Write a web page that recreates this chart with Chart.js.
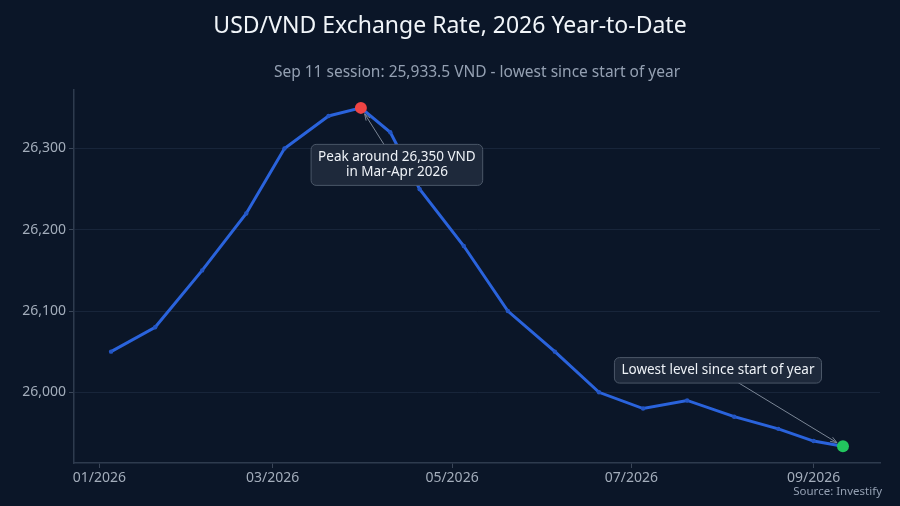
<!DOCTYPE html>
<html>
<head>
<meta charset="utf-8">
<script src="https://cdn.jsdelivr.net/npm/chart.js@4"></script>
<style>
  html, body { margin: 0; padding: 0; background: #0b1628; }
  #wrap { width: 900px; height: 506px; }
</style>
</head>
<body>
<div id="wrap"><canvas id="rateChart" width="900" height="506"></canvas></div>
<script>
// ---- data ----
const sessionDays = [4, 19, 35, 50, 63, 78, 89, 99, 109, 124, 139, 155, 170, 185, 200, 216, 231, 243, 253];
const usdVnd = [26050, 26080, 26150, 26220, 26300, 26340, 26350, 26320, 26250, 26180, 26100, 26050, 26000, 25980, 25990, 25970, 25955, 25940, 25933.5];
const xTickDays = [0, 59, 120, 181, 243];
const xTickLabels = ['01/2026', '03/2026', '05/2026', '07/2026', '09/2026'];
const yTicks = [26000, 26100, 26200, 26300];

const peakIdx = 6;
const lowIdx = usdVnd.length - 1;

const FONT = '"Noto Sans", "Open Sans", sans-serif';
const fmt = v => v.toLocaleString('en-US');

// annotation boxes + title/subtitle/source
const overlay = {
    id: 'overlay',
    afterDraw(chart) {
        const ctx = chart.ctx;
        const area = chart.chartArea;
        const pts = chart.getDatasetMeta(0).data;
        ctx.save();

        ctx.fillStyle = '#f1f5f9';
        ctx.font = '23px ' + FONT;
        ctx.textAlign = 'center';
        ctx.textBaseline = 'alphabetic';
        ctx.fillText('USD/VND Exchange Rate, 2026 Year-to-Date', 450, 33);

        ctx.fillStyle = '#94a0b2';
        ctx.font = '15.5px ' + FONT;
        ctx.fillText('Sep 11 session: 25,933.5 VND - lowest since start of year', (area.left + area.right) / 2, 77);

        ctx.font = '11.5px ' + FONT;
        ctx.textAlign = 'right';
        ctx.textBaseline = 'middle';
        ctx.fillText('Source: Investify', 882, 492);

        const notes = [
            { idx: peakIdx, dx: 36, dy: 57, lines: ['Peak around 26,350 VND', 'in Mar-Apr 2026'] },
            { idx: lowIdx, dx: -125, dy: -76, lines: ['Lowest level since start of year'] }
        ];
        ctx.font = '13.5px ' + FONT;
        notes.forEach(n => {
            const p = pts[n.idx];
            const cx = p.x + n.dx, cy = p.y + n.dy;
            // arrow from box centre toward the point
            const ang = Math.atan2(p.y - cy, p.x - cx);
            const hx = p.x - Math.cos(ang) * 7, hy = p.y - Math.sin(ang) * 7;
            ctx.strokeStyle = '#7b8696';
            ctx.lineWidth = 1;
            ctx.beginPath(); ctx.moveTo(cx, cy); ctx.lineTo(hx, hy); ctx.stroke();
            ctx.beginPath();
            ctx.moveTo(hx, hy);
            ctx.lineTo(hx - 7 * Math.cos(ang - 0.35), hy - 7 * Math.sin(ang - 0.35));
            ctx.moveTo(hx, hy);
            ctx.lineTo(hx - 7 * Math.cos(ang + 0.35), hy - 7 * Math.sin(ang + 0.35));
            ctx.stroke();

            const lh = 15.5;
            const w = Math.max(...n.lines.map(l => ctx.measureText(l).width)) + 14;
            const h = n.lines.length * lh + 10;
            ctx.beginPath();
            ctx.roundRect(cx - w / 2, cy - h / 2, w, h, 5);
            ctx.fillStyle = '#1e293b';
            ctx.fill();
            ctx.strokeStyle = '#4b5768';
            ctx.stroke();
            ctx.fillStyle = '#eef2f7';
            ctx.textAlign = 'center';
            ctx.textBaseline = 'middle';
            n.lines.forEach((l, i) => {
                ctx.fillText(l, cx, cy - (n.lines.length - 1) * lh / 2 + i * lh);
            });
        });
        ctx.restore();
    }
};

new Chart(document.getElementById('rateChart'), {
    type: 'line',
    data: {
        datasets: [{
            label: 'USD/VND',
            data: sessionDays.map((d, i) => ({ x: d, y: usdVnd[i] })),
            borderColor: '#2a63dc',
            borderWidth: 3,
            tension: 0,
            pointRadius: ctx => (ctx.dataIndex === peakIdx || ctx.dataIndex === lowIdx) ? 6 : 2.2,
            pointBackgroundColor: ctx => ctx.dataIndex === peakIdx ? '#ef4444' : ctx.dataIndex === lowIdx ? '#22c55e' : '#2456c4',
            pointBorderWidth: 0
        }]
    },
    options: {
        responsive: false,
        animation: false,
        layout: { padding: { top: 90, right: 20, left: 0, bottom: 0 } },
        plugins: {
            legend: { display: false },
            tooltip: { enabled: false }
        },
        scales: {
            x: {
                type: 'linear',
                min: -8.6,
                max: 265.6,
                afterBuildTicks: s => { s.ticks = xTickDays.map(v => ({ value: v })); },
                afterFit: s => { s.height = 43; },
                ticks: {
                    color: '#a3adbb',
                    font: { family: FONT, size: 14 },
                    padding: 2,
                    maxRotation: 0,
                    callback: v => xTickLabels[xTickDays.indexOf(v)]
                },
                grid: { drawOnChartArea: false, drawTicks: true, tickLength: 5, tickColor: '#3a4658' },
                border: { color: '#2e3b4e', width: 1.5 }
            },
            y: {
                min: 25913,
                max: 26372,
                afterBuildTicks: s => { s.ticks = yTicks.map(v => ({ value: v })); },
                afterFit: s => { s.width = 74; },
                ticks: {
                    color: '#a3adbb',
                    font: { family: FONT, size: 14 },
                    padding: 3,
                    callback: v => fmt(v)
                },
                grid: { color: '#18253a', lineWidth: 1, tickLength: 5, tickColor: '#3a4658' },
                border: { color: '#2e3b4e', width: 1.5 }
            }
        }
    },
    plugins: [overlay]
});
</script>
</body>
</html>
